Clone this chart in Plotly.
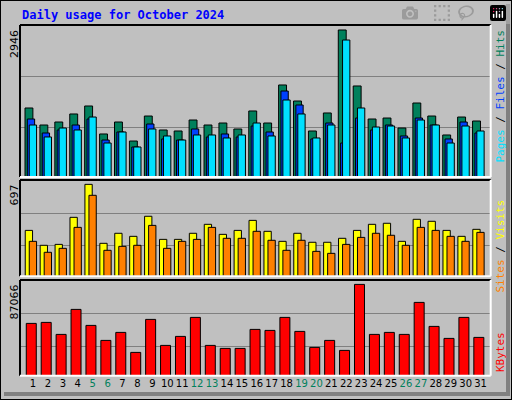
import plotly.graph_objects as go

days = list(range(1, 32))
day_labels = [str(d) for d in days]
weekend = {5, 6, 12, 13, 19, 20, 26, 27}
hits = [1383,1042,1102,1263,1423,862,1102,721,1222,942,922,1142,1042,1082,962,1323,1082,1844,1523,922,1283,2946,1824,1162,1182,982,1483,1222,842,1202,1122]
files = [1162,882,942,1042,1162,741,902,601,1062,762,741,962,802,862,802,1022,902,1723,1443,762,1082,681,1182,942,1042,822,1182,1042,762,1102,882]
pages = [1042,802,982,942,1202,681,902,601,962,822,741,842,842,782,842,1082,822,1543,1263,782,1042,2745,1383,1002,1022,782,1142,1042,681,1022,922]
visits = [348,235,242,447,697,250,326,303,455,280,280,326,394,318,348,424,341,265,326,258,258,288,348,394,402,265,432,417,348,303,356]
sites = [265,182,212,371,614,197,227,235,386,212,265,280,371,288,288,341,273,197,273,189,174,242,295,326,311,235,371,348,303,265,333]
kbytes = [49874,50828,39384,63224,47966,33662,41291,22219,53688,28894,37477,55595,28894,26033,26033,44151,43198,55595,42244,26987,33662,24126,87066,39384,41291,39384,69899,47013,35569,55595,36523]

fig = go.Figure()
ln = dict(color="black", width=1)
def bar(y, color, off, w, xa, ya):
    fig.add_trace(go.Bar(x=days, y=y, marker=dict(color=color, line=ln), offset=off, width=w,
                         xaxis=xa, yaxis=ya, showlegend=False, hoverinfo="skip"))
bar(hits, "#00805c", -0.536, 0.53, "x", "y")
bar(files, "#0040ff", -0.38, 0.49, "x", "y")
bar(pages, "#00e0ff", -0.25, 0.49, "x", "y")
bar(visits, "#ffff00", -0.52, 0.49, "x2", "y2")
bar(sites, "#ff8000", -0.25, 0.49, "x2", "y2")
bar(kbytes, "#ff0000", -0.45, 0.67, "x3", "y3")

xr = [0.129, 31.68]
xd = [20/512, 490.7/512]
def xax(show, anchor):
    d = dict(domain=xd, range=xr, showgrid=False, zeroline=False, fixedrange=True, anchor=anchor)
    if show:
        d.update(tickmode="array", tickvals=days, tickangle=0,
                 ticktext=[f"<span style='color:#00805c'>{l}</span>" if d_ in weekend else l for d_, l in zip(days, day_labels)],
                 ticks="", tickfont=dict(family="DejaVu Sans", size=10, color="black"))
    else:
        d.update(showticklabels=False)
    return d
def yax(dom, rng, grid):
    return dict(domain=dom, range=rng, tickmode="array", tickvals=grid, showticklabels=False,
                gridcolor="#808080", gridwidth=1, zeroline=False, fixedrange=True)

fig.update_layout(
    width=512, height=400, margin=dict(l=0, r=0, t=0, b=0),
    paper_bgcolor="#c0c0c0", plot_bgcolor="#c0c0c0", barmode="overlay",
    xaxis=xax(False, "y"), xaxis2=xax(False, "y2"), xaxis3=xax(True, "y3"),
    yaxis=yax([1-177/400, 1-25/400], [0, 3046], [1002, 2024]),
    yaxis2=yax([1-276.3/400, 1-180/400], [0, 730], [230, 477]),
    yaxis3=yax([1-375.7/400, 1-280/400], [0, 91260], [27650, 59120]),
)

shapes = []
for top, bot in [(25, 177), (180, 276.3), (280, 375.7)]:
    y0, y1 = 1-bot/400, 1-top/400
    shapes.append(dict(type="line", xref="paper", yref="paper", x0=xd[0], x1=xd[1], y0=y1, y1=y1, line=dict(color="black", width=2)))
    shapes.append(dict(type="line", xref="paper", yref="paper", x0=xd[0], x1=xd[0], y0=y0, y1=y1, line=dict(color="black", width=2)))
    shapes.append(dict(type="line", xref="paper", yref="paper", x0=xd[1], x1=xd[1], y0=y0, y1=y1, line=dict(color="white", width=2)))
    shapes.append(dict(type="line", xref="paper", yref="paper", x0=xd[0], x1=xd[1], y0=y0, y1=y0, line=dict(color="white", width=2)))
shapes.append(dict(type="rect", xref="paper", yref="paper", x0=0, x1=1, y0=0, y1=1, line=dict(color="black", width=2)))
shapes.append(dict(type="rect", xref="paper", yref="paper", x0=506/512, x1=510/512, y0=4/400, y1=396/400, fillcolor="#808080", line=dict(width=0)))
shapes.append(dict(type="rect", xref="paper", yref="paper", x0=4/512, x1=510/512, y0=4/400, y1=8/400, fillcolor="#808080", line=dict(width=0)))
fig.update_layout(shapes=shapes)

mono = "DejaVu Sans Mono"
ann = [
    dict(text="<b>Daily usage for October 2024</b>", x=20/512, y=1-15/400, xanchor="left", yanchor="middle",
         font=dict(family=mono, size=12, color="#0000ff")),
    dict(text="2946", x=14/512, y=1-28/400, textangle=-90, xanchor="center", yanchor="top", font=dict(family="DejaVu Sans", size=11, color="black")),
    dict(text="697", x=14/512, y=1-183/400, textangle=-90, xanchor="center", yanchor="top", font=dict(family="DejaVu Sans", size=11, color="black")),
    dict(text="87066", x=14/512, y=1-283/400, textangle=-90, xanchor="center", yanchor="top", font=dict(family="DejaVu Sans", size=11, color="black")),
    dict(text="<span style='color:#00e0ff'>Pages</span> / <span style='color:#0040ff'>Files</span> / <span style='color:#00805c'>Hits</span>",
         x=500/512, y=1-28/400, textangle=-90, xanchor="center", yanchor="top", font=dict(family=mono, size=11, color="black")),
    dict(text="<span style='color:#ff8000'>Sites</span> / <span style='color:#ffff00'>Visits</span>",
         x=500/512, y=1-198/400, textangle=-90, xanchor="center", yanchor="top", font=dict(family=mono, size=11, color="black")),
    dict(text="KBytes", x=500/512, y=1-330/400, textangle=-90, xanchor="center", yanchor="top", font=dict(family=mono, size=11, color="#ff0000")),
]
for a in ann:
    a.update(xref="paper", yref="paper", showarrow=False)
fig.update_layout(annotations=ann)
fig.write_html("out.html")

with open("out.html", encoding="utf-8") as f:
    html = f.read()
html = html.replace("<head>", "<head><style>html,body{margin:0;padding:0;overflow:hidden}</style>", 1)
with open("out.html", "w", encoding="utf-8") as f:
    f.write(html)
